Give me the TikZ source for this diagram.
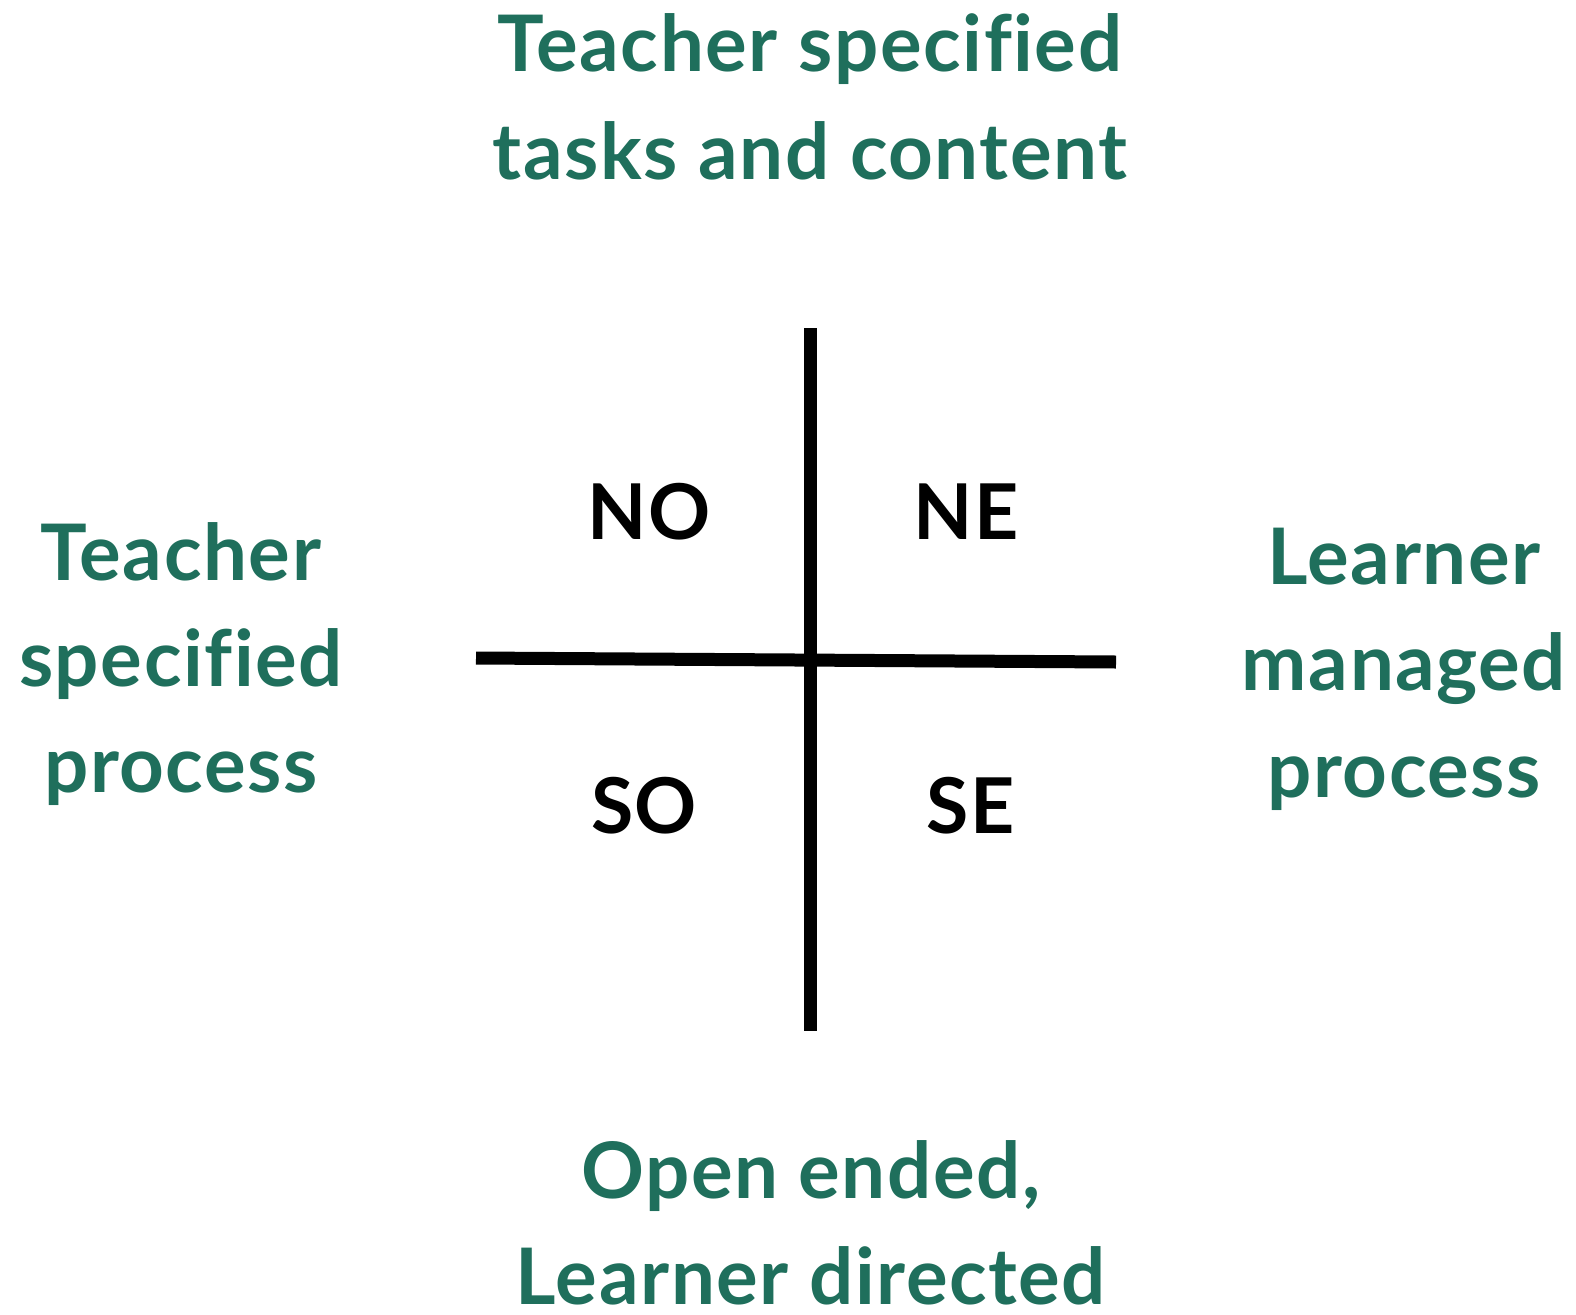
\documentclass[tikz,border=0pt]{standalone}
\usepackage{fontspec}
\setmainfont[Ligatures=NoCommon,LetterSpace=2]{Lato}
\definecolor{lbl}{HTML}{1F6F5C}
\begin{document}
\begin{tikzpicture}[x=1pt,y=-1pt,
  lab/.style={text=lbl,font=\fontsize{78}{90}\selectfont\bfseries,anchor=base,inner sep=0pt},
  quad/.style={text=black,font=\fontsize{77}{90}\selectfont\bfseries,anchor=base,inner sep=0pt},
  axis/.style={line width=13pt,black}]
\useasboundingbox (0,0) rectangle (1576,1314);
\node[lab] (t1) at (810,71) {Teacher specified};
\node[lab] (t2) at (810,179) {tasks and content};
\node[lab] (l1) at (181,580) {Teacher};
\node[lab] (l2) at (181,686) {specified};
\node[lab] (l3) at (181,792) {process};
\node[lab] (r1) at (1404,584) {Learner};
\node[lab] (r2) at (1404,690) {managed};
\node[lab] (r3) at (1404,797) {process};
\node[lab] (b1) at (811,1198) {Open ended,};
\node[lab] (b2) at (811,1304) {Learner directed};
\node[quad] (no) at (649,539) {NO};
\node[quad] (ne) at (966,539) {NE};
\node[quad] (so) at (644,833) {SO};
\node[quad] (se) at (971,833) {SE};
\coordinate (vt) at (810,328);
\coordinate (vb) at (810,1031);
\coordinate (hl) at (476,658);
\coordinate (hr) at (1116,662);
\draw[axis] (vt) -- (vb);
\draw[axis] (hl) -- (hr);
\end{tikzpicture}
\end{document}
